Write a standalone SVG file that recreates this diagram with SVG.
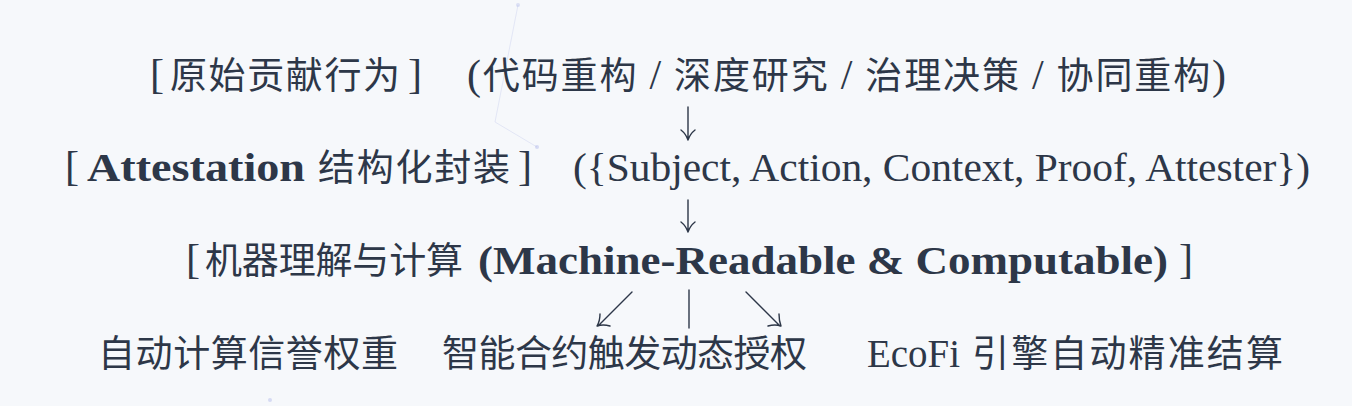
<svg xmlns="http://www.w3.org/2000/svg" width="1352" height="406" viewBox="0 0 1352 406">
<style>
.t{font-family:"Liberation Serif","Noto Sans CJK SC",serif;font-size:37px;fill:#2d3748}
.l{font-size:39px}
.k{font-size:42px}
.b{font-weight:bold}
.a{stroke:#2d3748;stroke-width:1.4;fill:none;stroke-linecap:round;stroke-linejoin:round}
.d{stroke:#8a96e0;stroke-width:1;fill:none;opacity:0.18}
</style>
<rect width="1352" height="406" fill="#f6f8fb"/>
<g id="decor">
<path class="d" d="M518,5 L495,122 L537,147"/>
<circle cx="518" cy="5" r="2" fill="#8a96e0" opacity="0.25"/>
<circle cx="537" cy="147" r="2" fill="#8a96e0" opacity="0.3"/>
<circle cx="270" cy="400" r="2" fill="#8a96e0" opacity="0.3"/>
</g>
<g id="node-raw">
<text class="t k" x="150" y="88">[</text>
<text class="t" x="170" y="89" textLength="230">原始贡献行为</text>
<text class="t k" x="408" y="88">]</text>
<text class="t" x="467" y="89" textLength="759"><tspan class="k">(</tspan>代码重构 <tspan class="k">/</tspan> 深度研究 <tspan class="k">/</tspan> 治理决策 <tspan class="k">/</tspan> 协同重构<tspan class="k">)</tspan></text>
</g>
<g id="node-attestation">
<text class="t k" x="65" y="180">[</text>
<text class="t l b" x="87" y="181" textLength="218" lengthAdjust="spacingAndGlyphs">Attestation</text>
<text class="t" x="318" y="181" textLength="192">结构化封装</text>
<text class="t k" x="518" y="180">]</text>
<text class="t l" x="573" y="181" textLength="737" lengthAdjust="spacingAndGlyphs">({Subject, Action, Context, Proof, Attester})</text>
</g>
<g id="node-machine">
<text class="t k" x="186" y="273">[</text>
<text class="t" x="205" y="274" textLength="258">机器理解与计算</text>
<text class="t l b" x="478" y="274" textLength="690" lengthAdjust="spacingAndGlyphs">(Machine-Readable &amp; Computable)</text>
<text class="t k" x="1179" y="273">]</text>
</g>
<g id="node-reputation">
<text class="t" x="98" y="367" textLength="300">自动计算信誉权重</text>
</g>
<g id="node-contract">
<text class="t" x="442" y="367" textLength="365">智能合约触发动态授权</text>
</g>
<g id="node-ecofi">
<text class="t l" x="867" y="367" textLength="93" lengthAdjust="spacingAndGlyphs">EcoFi</text>
<text class="t" x="972" y="367" textLength="311">引擎自动精准结算</text>
</g>
<g id="connectors">
<path class="a" d="M688,107 V140 M681,130 Q686,134 688,140 Q690,134 695,130"/>
<path class="a" d="M688,200 V232 M681,222 Q686,226 688,232 Q690,226 695,222"/>
<path class="a" d="M632,292 L598,326 M600,314 Q600,321 597,326 Q603,324 610,326"/>
<path class="a" d="M689,290 V328"/>
<path class="a" d="M746,292 L780,326 M779,314 Q779,321 781,326 Q775,324 768,326"/>
</g>
</svg>
